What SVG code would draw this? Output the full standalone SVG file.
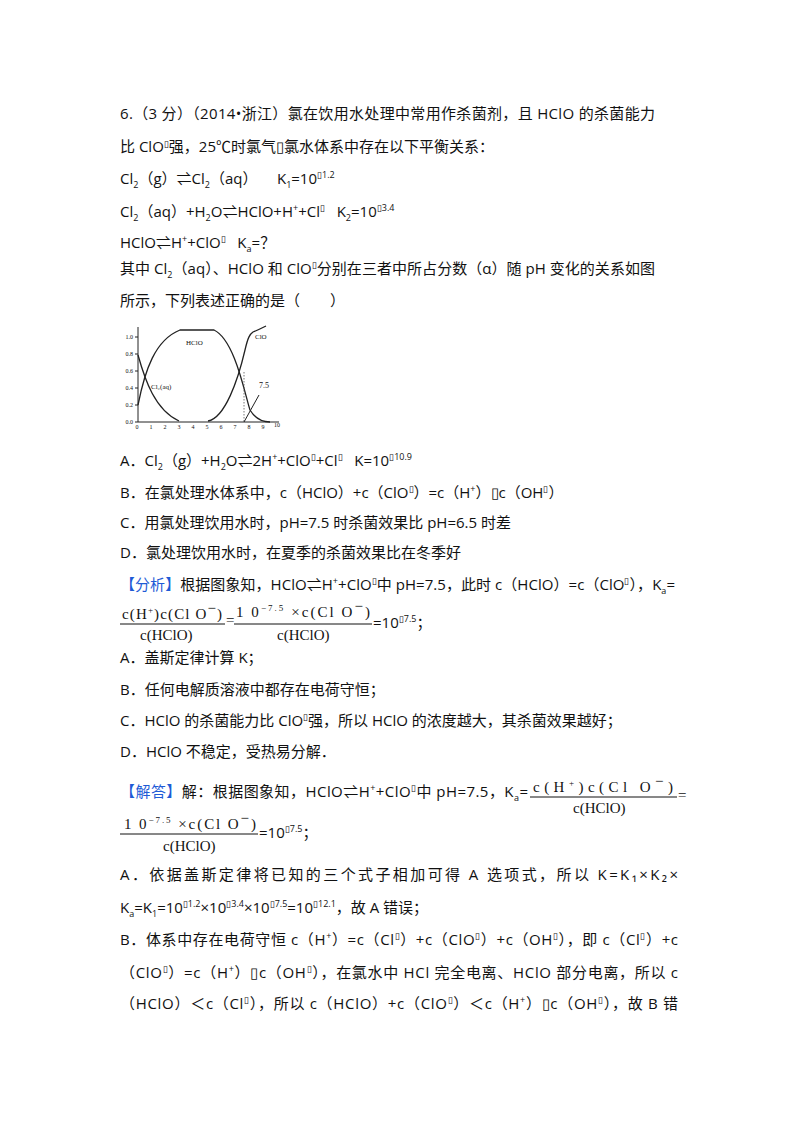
<svg xmlns="http://www.w3.org/2000/svg" width="800" height="1132" viewBox="0 0 800 1132">
<style>
text{font-family:"Open Sans","Noto Sans CJK SC",sans-serif;font-size:15px;fill:#111}
.b{fill:#1e5bd6}
.s{font-size:9px}
.m{font-family:"Liberation Serif","Noto Sans CJK SC",serif;font-size:15px}
.g text,text.g{font-family:"Liberation Serif",serif;font-size:6px}
.c{fill:none;stroke:#222;stroke-width:1.3}
</style>
<rect width="800" height="1132" fill="#fff"/>
<text x="120" y="119" textLength="535" lengthAdjust="spacing">6.（3 分）（2014•浙江）氯在饮用水处理中常用作杀菌剂，且 HClO 的杀菌能力</text>
<text x="120" y="152">比 ClO<tspan class="s" dy="-5">▯</tspan><tspan dy="5">强，25℃时氯气▯氯水体系中存在以下平衡关系：</tspan></text>
<text x="120" y="184">Cl<tspan class="s" dy="4">2</tspan><tspan dy="-4">（g）⇌Cl</tspan><tspan class="s" dy="4">2</tspan><tspan dy="-4">（aq）&#160;&#160;&#160;&#160;&#160;K</tspan><tspan class="s" dy="4">1</tspan><tspan dy="-4">=10</tspan><tspan class="s" dy="-6">▯1.2</tspan></text>
<text x="120" y="217">Cl<tspan class="s" dy="4">2</tspan><tspan dy="-4">（aq）+H</tspan><tspan class="s" dy="4">2</tspan><tspan dy="-4">O⇌HClO+H</tspan><tspan class="s" dy="-6">+</tspan><tspan dy="6">+Cl</tspan><tspan class="s" dy="-6">▯</tspan><tspan dy="6">&#160;&#160;&#160;K</tspan><tspan class="s" dy="4">2</tspan><tspan dy="-4">=10</tspan><tspan class="s" dy="-6">▯3.4</tspan></text>
<text x="120" y="248">HClO⇌H<tspan class="s" dy="-6">+</tspan><tspan dy="6">+ClO</tspan><tspan class="s" dy="-6">▯</tspan><tspan dy="6">&#160;&#160;&#160;K</tspan><tspan class="s" dy="4">a</tspan><tspan dy="-4">=？</tspan></text>
<text x="120" y="274" textLength="535" lengthAdjust="spacing">其中 Cl<tspan class="s" dy="4">2</tspan><tspan dy="-4">（aq）、HClO 和 ClO</tspan><tspan class="s" dy="-6">▯</tspan><tspan dy="6">分别在三者中所占分数（α）随 pH 变化的关系如图</tspan></text>
<text x="120" y="306">所示，下列表述正确的是（　　）</text>
<g id="chart">
<path d="M138 327V422H279" stroke="#222" fill="none"/>
<g stroke="#222"><path d="M135 422h3M135 405h3M135 388h3M135 371h3M135 354h3M135 337h3"/></g>
<g class="g" text-anchor="end"><text x="133" y="424">0.0</text><text x="133" y="407">0.2</text><text x="133" y="390">0.4</text><text x="133" y="373">0.6</text><text x="133" y="356">0.8</text><text x="133" y="339">1.0</text></g>
<g class="g" text-anchor="middle"><text x="137" y="429">0</text><text x="151" y="429">1</text><text x="165" y="429">2</text><text x="179" y="429">3</text><text x="193" y="429">4</text><text x="207" y="429">5</text><text x="221" y="429">6</text><text x="235" y="429">7</text><text x="249" y="429">8</text><text x="263" y="429">9</text><text x="277" y="427">10</text></g>
<path class="c" d="M138 405C145 370 155 340 180 330L214 330C235 340 245 395 250 410C256 420 265 422 270 422"/>
<path class="c" d="M138 355C145 380 155 410 179 421"/>
<path class="c" d="M208 421C225 418 238 380 245 350C248 337 250 334 253 332C258 330 262 328 266 326"/>
<path d="M244 372V422" stroke="#555" stroke-width="0.8" stroke-dasharray="1.5 1.5"/>
<path d="M244 422L259 395" stroke="#222" stroke-width="1"/>
<text class="g" x="186" y="345" style="font-size:7px">HClO</text>
<text class="g" x="255" y="339" style="font-size:7px">ClO</text>
<text class="g" x="151" y="389" style="font-size:7px">Cl₂(aq)</text>
<text class="g" x="259" y="388" style="font-size:8px">7.5</text>
</g>
<text x="120" y="466">A．Cl<tspan class="s" dy="4">2</tspan><tspan dy="-4">（g）+H</tspan><tspan class="s" dy="4">2</tspan><tspan dy="-4">O⇌2H</tspan><tspan class="s" dy="-6">+</tspan><tspan dy="6">+ClO</tspan><tspan class="s" dy="-6">▯</tspan><tspan dy="6">+Cl</tspan><tspan class="s" dy="-6">▯</tspan><tspan dy="6">&#160;&#160;&#160;K=10</tspan><tspan class="s" dy="-6">▯10.9</tspan></text>
<text x="120" y="498">B．在氯处理水体系中，c（HClO）+c（ClO<tspan class="s" dy="-6">▯</tspan><tspan dy="6">）=c（H</tspan><tspan class="s" dy="-6">+</tspan><tspan dy="6">）▯c（OH</tspan><tspan class="s" dy="-6">▯</tspan><tspan dy="6">）</tspan></text>
<text x="120" y="528">C．用氯处理饮用水时，pH=7.5 时杀菌效果比 pH=6.5 时差</text>
<text x="120" y="558">D．氯处理饮用水时，在夏季的杀菌效果比在冬季好</text>
<text x="120" y="590" textLength="555" lengthAdjust="spacing"><tspan class="b">【分析】</tspan>根据图象知，HClO⇌H<tspan class="s" dy="-6">+</tspan><tspan dy="6">+ClO</tspan><tspan class="s" dy="-6">▯</tspan><tspan dy="6">中 pH=7.5，此时 c（HClO）=c（ClO</tspan><tspan class="s" dy="-6">▯</tspan><tspan dy="6">），K</tspan><tspan class="s" dy="4">a</tspan><tspan dy="-4">=</tspan></text>
<g id="frac1">
<text class="m" x="122" y="619" textLength="100">c(H<tspan class="s" dy="-6">+</tspan><tspan dy="6">)c(Cl O</tspan><tspan dy="-6">−</tspan><tspan dy="6">)</tspan></text>
<line x1="120" y1="624" x2="225" y2="624" stroke="#111"/>
<text class="m" x="140" y="640">c(HClO)</text>
<text class="m" x="226" y="625">=</text>
<text class="m" x="236" y="617" textLength="134">1 0<tspan class="s" dy="-6">−7.5</tspan><tspan dy="6"> ×c(Cl O</tspan><tspan dy="-6">−</tspan><tspan dy="6">)</tspan></text>
<line x1="234" y1="624" x2="372" y2="624" stroke="#111"/>
<text class="m" x="277" y="640">c(HClO)</text>
<text x="373" y="628">=10<tspan class="s" dy="-6">▯7.5</tspan><tspan dy="6">；</tspan></text>
</g>
<text x="120" y="663">A．盖斯定律计算 K；</text>
<text x="120" y="695">B．任何电解质溶液中都存在电荷守恒；</text>
<text x="120" y="726">C．HClO 的杀菌能力比 ClO<tspan class="s" dy="-6">▯</tspan><tspan dy="6">强，所以 HClO 的浓度越大，其杀菌效果越好；</tspan></text>
<text x="120" y="757">D．HClO 不稳定，受热易分解．</text>
<text x="120" y="797" textLength="408" lengthAdjust="spacing"><tspan class="b">【解答】</tspan>解：根据图象知，HClO⇌H<tspan class="s" dy="-6">+</tspan><tspan dy="6">+ClO</tspan><tspan class="s" dy="-6">▯</tspan><tspan dy="6">中 pH=7.5，K</tspan><tspan class="s" dy="4">a</tspan><tspan dy="-4">=</tspan></text>
<g id="frac2">
<text class="m" x="533" y="792" textLength="140">c(H<tspan class="s" dy="-6">+</tspan><tspan dy="6">)c(Cl O</tspan><tspan dy="-6">−</tspan><tspan dy="6">)</tspan></text>
<line x1="530" y1="797" x2="677" y2="797" stroke="#111"/>
<text class="m" x="573" y="813">c(HClO)</text>
<text class="m" x="678" y="800">=</text>
<text class="m" x="124" y="829" textLength="132">1 0<tspan class="s" dy="-6">−7.5</tspan><tspan dy="6"> ×c(Cl O</tspan><tspan dy="-6">−</tspan><tspan dy="6">)</tspan></text>
<line x1="120" y1="834" x2="258" y2="834" stroke="#111"/>
<text class="m" x="163" y="851">c(HClO)</text>
<text x="259" y="838">=10<tspan class="s" dy="-6">▯7.5</tspan><tspan dy="6">；</tspan></text>
</g>
<text x="120" y="880" textLength="558" lengthAdjust="spacing">A．依据盖斯定律将已知的三个式子相加可得 A 选项式，所以 K=K₁×K₂×</text>
<text x="120" y="913">K<tspan class="s" dy="4">a</tspan><tspan dy="-4">=K</tspan><tspan class="s" dy="4">1</tspan><tspan dy="-4">=10</tspan><tspan class="s" dy="-6">▯1.2</tspan><tspan dy="6">×10</tspan><tspan class="s" dy="-6">▯3.4</tspan><tspan dy="6">×10</tspan><tspan class="s" dy="-6">▯7.5</tspan><tspan dy="6">=10</tspan><tspan class="s" dy="-6">▯12.1</tspan><tspan dy="6">，故 A 错误；</tspan></text>
<text x="120" y="945" textLength="558" lengthAdjust="spacing">B．体系中存在电荷守恒 c（H<tspan class="s" dy="-6">+</tspan><tspan dy="6">）=c（Cl</tspan><tspan class="s" dy="-6">▯</tspan><tspan dy="6">）+c（ClO</tspan><tspan class="s" dy="-6">▯</tspan><tspan dy="6">）+c（OH</tspan><tspan class="s" dy="-6">▯</tspan><tspan dy="6">），即 c（Cl</tspan><tspan class="s" dy="-6">▯</tspan><tspan dy="6">）+c</tspan></text>
<text x="120" y="978" textLength="558" lengthAdjust="spacing">（ClO<tspan class="s" dy="-6">▯</tspan><tspan dy="6">）=c（H</tspan><tspan class="s" dy="-6">+</tspan><tspan dy="6">）▯c（OH</tspan><tspan class="s" dy="-6">▯</tspan><tspan dy="6">），在氯水中 HCl 完全电离、HClO 部分电离，所以 c</tspan></text>
<text x="120" y="1009" textLength="558" lengthAdjust="spacing">（HClO）＜c（Cl<tspan class="s" dy="-6">▯</tspan><tspan dy="6">），所以 c（HClO）+c（ClO</tspan><tspan class="s" dy="-6">▯</tspan><tspan dy="6">）＜c（H</tspan><tspan class="s" dy="-6">+</tspan><tspan dy="6">）▯c（OH</tspan><tspan class="s" dy="-6">▯</tspan><tspan dy="6">），故 B 错</tspan></text>
</svg>
